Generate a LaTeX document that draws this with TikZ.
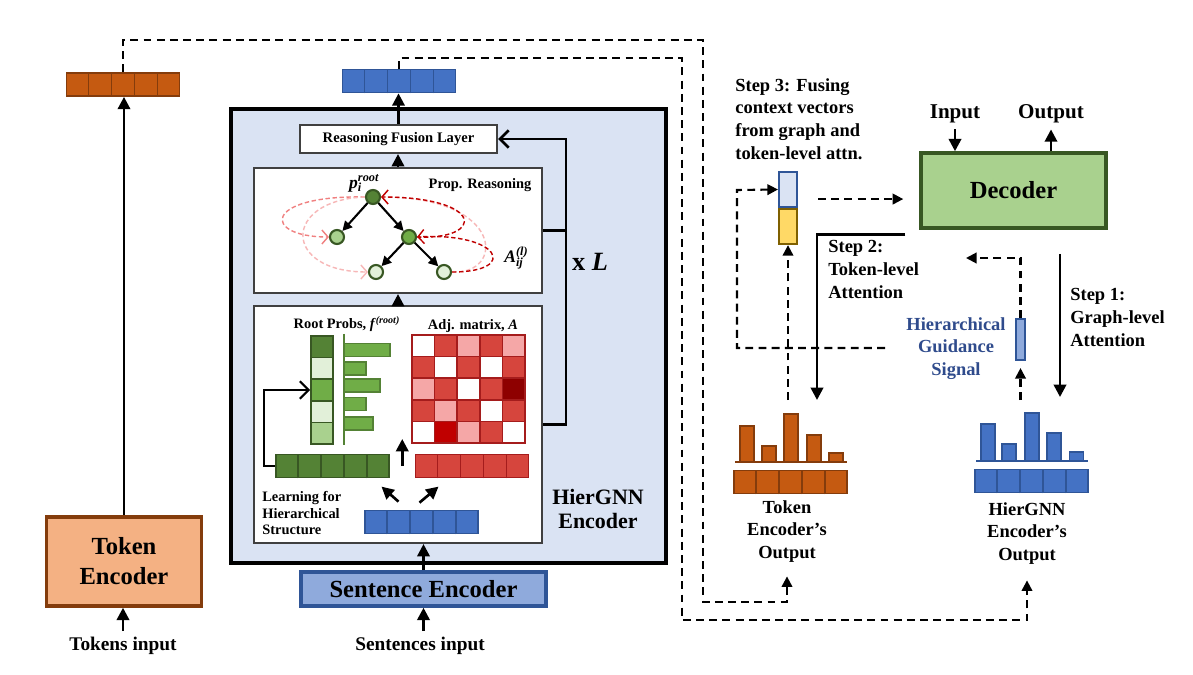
\documentclass[tikz,border=0pt]{standalone}
\usepackage{fontspec}
\setmainfont{Liberation Serif}
\usepackage{tikz}
\usetikzlibrary{shapes, arrows.meta, positioning, calc}

% one unit of the picture = one pixel of the sketch
\newlength{\pxu}
\setlength{\pxu}{0.02cm}

\definecolor{tokfill}{HTML}{F4B183}
\definecolor{orangevec}{HTML}{C55A11}
\definecolor{orangedraw}{HTML}{843C0C}
\definecolor{encfill}{HTML}{DAE3F3}
\definecolor{bluevec}{HTML}{4472C4}
\definecolor{bluedraw}{HTML}{2F5597}
\definecolor{sentfill}{HTML}{8FAADC}
\definecolor{greendark}{HTML}{385723}
\definecolor{greenA}{HTML}{548235}
\definecolor{greenB}{HTML}{70AD47}
\definecolor{greenC}{HTML}{A9D18E}
\definecolor{greenD}{HTML}{E2F0D9}
\definecolor{adjW}{HTML}{FFFFFF}
\definecolor{adjM}{HTML}{D6453D}
\definecolor{adjP}{HTML}{F5A7A7}
\definecolor{adjD}{HTML}{8E0000}
\definecolor{adjB}{HTML}{C00000}
\definecolor{adjdraw}{HTML}{A51C1C}
\definecolor{fuseyel}{HTML}{FFD966}
\definecolor{fuseyeldraw}{HTML}{7F6000}
\definecolor{redline}{HTML}{C00000}
\definecolor{pinkline}{HTML}{F08080}
\definecolor{pinklight}{HTML}{F7B7B7}
\definecolor{guideblue}{HTML}{2F4B8C}
\definecolor{paneldraw}{HTML}{404040}

% row vector of five cells
\newcommand{\cellrow}[5]{%
  \node[rowvec, fill=#4, draw=#5] (#1) at (#2,#3) {};
  \foreach \q in {1,...,4}
    \draw[#5, line width=1pt] ($(#1.south west)!\q/5!(#1.south east)$) -- ($(#1.north west)!\q/5!(#1.north east)$);
}
% letter with sub- and superscript, in text
\newcommand{\subsup}[3]{\textit{#1}\makebox[0pt][l]{\raisebox{-0.45ex}{\scriptsize\textit{#2}}}\raisebox{0.85ex}{\scriptsize\textit{#3}}}

\begin{document}
\begin{tikzpicture}
  [
  x=0.02cm, y=-0.02cm,
  % boxes
  tokbox/.style = {rectangle, draw=orangedraw, fill=tokfill, line width=2pt,
    minimum width=155\pxu, minimum height=89\pxu, align=center,
    font=\fontsize{14}{17}\selectfont\bfseries},
  encbox/.style = {rectangle, draw=black, fill=encfill, line width=2pt,
    minimum width=435\pxu, minimum height=454\pxu, inner sep=0},
  panel/.style = {rectangle, draw=paneldraw, fill=white, line width=1.2pt,
    minimum width=288\pxu, inner sep=0},
  fusebox/.style = {rectangle, draw=paneldraw, fill=white, line width=1.2pt,
    minimum width=197\pxu, minimum height=28\pxu, inner sep=0,
    font=\fontsize{8.3}{10}\selectfont\bfseries},
  sentbox/.style = {rectangle, draw=bluedraw, fill=sentfill, line width=2pt,
    minimum width=245\pxu, minimum height=34\pxu, inner sep=0,
    font=\fontsize{14}{16}\selectfont\bfseries},
  decbox/.style = {rectangle, draw=greendark, fill=greenC, line width=2pt,
    minimum width=185\pxu, minimum height=75\pxu, inner sep=0,
    font=\fontsize{14}{16}\selectfont\bfseries},
  rowvec/.style = {rectangle, line width=1pt, inner sep=0,
    minimum width=113\pxu, minimum height=23\pxu},
  fusecell/.style = {rectangle, line width=1.2pt, inner sep=0,
    minimum width=18\pxu, minimum height=35\pxu},
  treenode/.style = {circle, draw=greendark, line width=1.2pt,
    minimum size=14\pxu, inner sep=0},
  % texts
  inlabel/.style = {font=\fontsize{11}{13}\selectfont\bfseries},
  smallbold/.style = {font=\fontsize{8.2}{9.5}\selectfont\bfseries},
  steplabel/.style = {align=left, anchor=north west, inner sep=0,
    font=\fontsize{10.5}{13}\selectfont\bfseries},
  outlabel/.style = {align=center, anchor=north, inner sep=0,
    font=\fontsize{10.5}{12.8}\selectfont\bfseries},
  % lines
  arr/.style = {draw, -{Triangle[length=7pt, width=7pt]}, line width=1.5pt},
  tarr/.style = {draw, -{Triangle[length=5.5pt, width=5.5pt]}, line width=1.2pt},
  dasharr/.style = {draw, -{Triangle[length=6pt, width=6pt]}, line width=1.2pt,
    dash pattern=on 4.5pt off 3pt},
  fb/.style = {draw, -{Straight Barb[length=5pt, width=10pt]}, line width=1.5pt},
  link/.style = {draw, line width=1.5pt},
  redarr/.style = {draw, -{Straight Barb[length=3.5pt, width=8pt]}, line width=0.8pt,
    dash pattern=on 2.5pt off 1.5pt},
  ]
  \useasboundingbox (0,0) rectangle (1193,675);

  % token encoder side
  \node [tokbox] (tokenc) at (124,561.5) {Token\\Encoder};
  \node [inlabel] (tokin) at (123,646) {Tokens input};
  \cellrow{tokvec}{123}{84.5}{orangevec}{orangedraw}

  % hiergnn encoder
  \node [encbox] (hiergnn) at (448.5,336) {};
  \cellrow{hiervec}{399}{81}{bluevec}{bluedraw}
  \node [fusebox] (fusion) at (398.5,139) {Reasoning Fusion Layer};
  \node [panel, minimum height=125\pxu] (propbox) at (398,230.5) {};
  \node [panel, minimum height=237\pxu] (learnbox) at (398,424.5) {};
  \node [sentbox] (sentenc) at (423.5,589) {Sentence Encoder};
  \node [inlabel] (sentin) at (420,646) {Sentences input};
  \node [font=\fontsize{15}{18}\selectfont\bfseries] (xL) at (590,262) {x \textit{L}};
  \node [align=center, font=\fontsize{12.5}{14}\selectfont\bfseries] (hgnnlbl)
    at (598,509) {HierGNN\\Encoder};

  % propagation reasoning
  \node [smallbold] (proplbl) at (480,185) {Prop. Reasoning};
  \node [treenode, fill=greenA] (root) at (373,197) {};
  \node [treenode, fill=greenC] (lc) at (337,237) {};
  \node [treenode, fill=greenB] (rc) at (409,237) {};
  \node [treenode, fill=greenD] (bl) at (376,272) {};
  \node [treenode, fill=greenD] (br) at (444,272) {};
  \node [smallbold, font=\fontsize{10}{11}\selectfont\bfseries] (plbl) at (364,183) {\subsup{p}{i}{root}};
  \node [smallbold, font=\fontsize{10}{11}\selectfont\bfseries] (albl) at (516,258) {\subsup{A}{ij}{(l)}};
  \path [tarr] (root) -- (lc);
  \path [tarr] (root) -- (rc);
  \path [tarr] (rc) -- (bl);
  \path [tarr] (rc) -- (br);
  % message passing
  \path [redarr, pinklight] (br.east) .. controls (505,275) and (505,197) .. (root.east);
  \path [redarr, redline] (rc.east) .. controls (485,240) and (485,197) .. (root.east);
  \path [redarr, redline] (br.east) .. controls (520,272) and (500,232) .. (rc.east);
  \path [redarr, pinkline] (root.west) .. controls (262,195) and (262,237) .. (lc.west);
  \path [redarr, pinklight] (root.west) .. controls (282,200) and (282,272) .. (bl.west);

  % learning for hierarchical structure
  \node [smallbold] (rootlbl) at (347,324) {Root Probs, \textit{f}\textsuperscript{\textit{(root)}}};
  \node [smallbold] (adjlbl) at (473,326) {Adj. matrix, \textit{A}};
  \node [smallbold, align=left, anchor=north west, inner sep=0] (learnlbl)
    at (262,491) {Learning for\\Hierarchical\\Structure};
  \node [draw=greendark, line width=1pt, inner sep=0, minimum width=22\pxu,
    minimum height=108\pxu] (rootcol) at (322,390) {};
  \foreach \c [count=\r] in {greenA,greenD,greenB,greenD,greenC}
    \draw [fill=\c, draw=greendark, line width=1pt]
      (311,{336+(\r-1)*21.6}) rectangle (333,{336+\r*21.6});
  \draw [greenA, line width=1.5pt] (344,334) -- (344,445);
  \foreach \y/\w in {350/46, 368.5/22, 385.5/36, 404/22, 423.5/29}
    \draw [fill=greenB, draw=greenA, line width=1pt] (344,{\y-6.5}) rectangle ({344+\w},{\y+6.5});
  \foreach \row [count=\r] in {{adjW,adjM,adjP,adjM,adjP},{adjM,adjW,adjM,adjW,adjM},
      {adjP,adjM,adjW,adjM,adjD},{adjM,adjP,adjM,adjW,adjM},{adjW,adjB,adjP,adjM,adjW}}
    \foreach \c [count=\k] in \row
      \draw [fill=\c, draw=adjdraw, line width=1pt]
        ({412+(\k-1)*22.6},{335+(\r-1)*21.6}) rectangle ++(22.6,21.6);
  \cellrow{grow}{332.5}{466}{greenA}{greendark}
  \cellrow{rrow}{472}{466}{adjM}{adjdraw}
  \cellrow{brow}{421.5}{522}{bluevec}{bluedraw}
  \path [fb, line width=1.2pt] (grow.west) -- ++(-11,0) |- (rootcol.west);
  \path [arr] ($(grow.east)!0.5!(rrow.west)$) -- ++(0,-27);
  \path [arr] ($(brow.north)+(-23,-8)$) -- ++(-17,-15);
  \path [arr] ($(brow.north)+(-2,-7)$) -- ++(19,-16);

  % encoder paths
  \path [arr] (tokin.north) -- (tokin.north |- tokenc.south);
  \path [arr] (tokenc.north) -- (tokenc.north |- tokvec.south);
  \path [arr] (fusion.north) -- (fusion.north |- hiervec.south);
  \path [arr] (propbox.north) -- (propbox.north |- fusion.south);
  \path [arr] (learnbox.north) -- (learnbox.north |- propbox.south);
  \path [arr] (sentin.north -| sentenc) -- (sentenc.south);
  \path [arr] (sentenc.north) -- (sentenc.north |- learnbox.south);
  \path [fb] (learnbox.east) -- ++(23,0) |- (fusion.east);
  \path [link] (propbox.east) -- ++(23,0);

  % decoder side
  \node [decbox] (decoder) at (1013.5,190.5) {Decoder};
  \node [font=\fontsize{12}{14}\selectfont\bfseries] (declin) at (955,114) {Input};
  \node [font=\fontsize{12}{14}\selectfont\bfseries] (declout) at (1051,114) {Output};
  \path [arr] (declin.south) -- (declin.south |- decoder.north);
  \path [arr] (declout.south |- decoder.north) -- (declout.south);

  \node [steplabel] (step3) at (735,78) {Step 3: Fusing\\context vectors\\from graph and\\token-level attn.};
  \node [steplabel] (step2) at (828,240) {Step 2:\\Token-level\\Attention};
  \node [steplabel] (step1) at (1070,288) {Step 1:\\Graph-level\\Attention};
  \node [outlabel, text=guideblue] (guidelbl) at (956,317) {Hierarchical\\Guidance\\Signal};

  % fused context vector
  \node [fusecell, fill=encfill, draw=bluedraw] (fusetop) at (788,189.5) {};
  \node [fusecell, fill=fuseyel, draw=fuseyeldraw, below=0pt of fusetop] (fusebot) {};
  \node [rectangle, fill=sentfill, draw=bluedraw, line width=1.2pt, inner sep=0,
    minimum width=9\pxu, minimum height=41\pxu] (signal) at (1020.5,339.5) {};

  % encoder outputs
  \foreach \bx/\by in {747/426, 769/446, 791/414, 814/435, 836/453}
    \draw [fill=orangevec, draw=orangedraw, line width=1pt] ({\bx-7},462) rectangle ({\bx+7},\by);
  \draw [orangedraw, line width=1.5pt] (735,462) -- (847,462);
  \cellrow{tokout}{790.5}{482}{orangevec}{orangedraw}
  \node [outlabel] (tokoutlbl) at (787,500) {Token\\Encoder’s\\Output};
  \foreach \bx/\by in {988/424, 1009/444, 1032/413, 1054/433, 1076.5/452}
    \draw [fill=bluevec, draw=bluedraw, line width=1pt] ({\bx-7},461) rectangle ({\bx+7},\by);
  \draw [bluedraw, line width=1.5pt] (976,461) -- (1088,461);
  \cellrow{hierout}{1031.5}{481}{bluevec}{bluedraw}
  \node [outlabel] (hieroutlbl) at (1027,502) {HierGNN\\Encoder’s\\Output};

  % free ends
  \coordinate (guideL) at (885,348);
  \coordinate (guideR) at (966,258);
  \coordinate (tokattn) at (788,400);
  \coordinate (tokhead) at (817,400);
  \coordinate (graphtop) at (1060,254);
  \coordinate (graphhead) at (1060,397);
  \coordinate (hierattn) at (1020.5,400);

  % attention paths
  \path [dasharr] ($(fusetop.south east)+(20,-9)$) -- ($(decoder.west |- fusetop.south)+(-16,-9)$);
  \path [dasharr] (guideL) -| (737,190) -- (fusetop.west);
  \path [dasharr] (tokattn) -- (fusebot.south);
  \path [arr] ($(decoder.south west)+(-14,5)$) -| (tokhead);
  \path [arr] (graphtop) -- (graphhead);
  \path [dasharr] (signal.north) |- (guideR);
  \path [dasharr, shorten >=7\pxu] (hierattn) -- (signal.south);

  % encoder outputs to the decoder side
  \path [dasharr, shorten >=14\pxu] (tokvec.north) |- (703,40) |- (tokoutlbl.south |- 0,602) -- (tokoutlbl.south);
  \path [dasharr, shorten >=16\pxu] (hiervec.north) |- (682,58) |- (hieroutlbl.south |- 0,620) -- (hieroutlbl.south);

\end{tikzpicture}
\end{document}
